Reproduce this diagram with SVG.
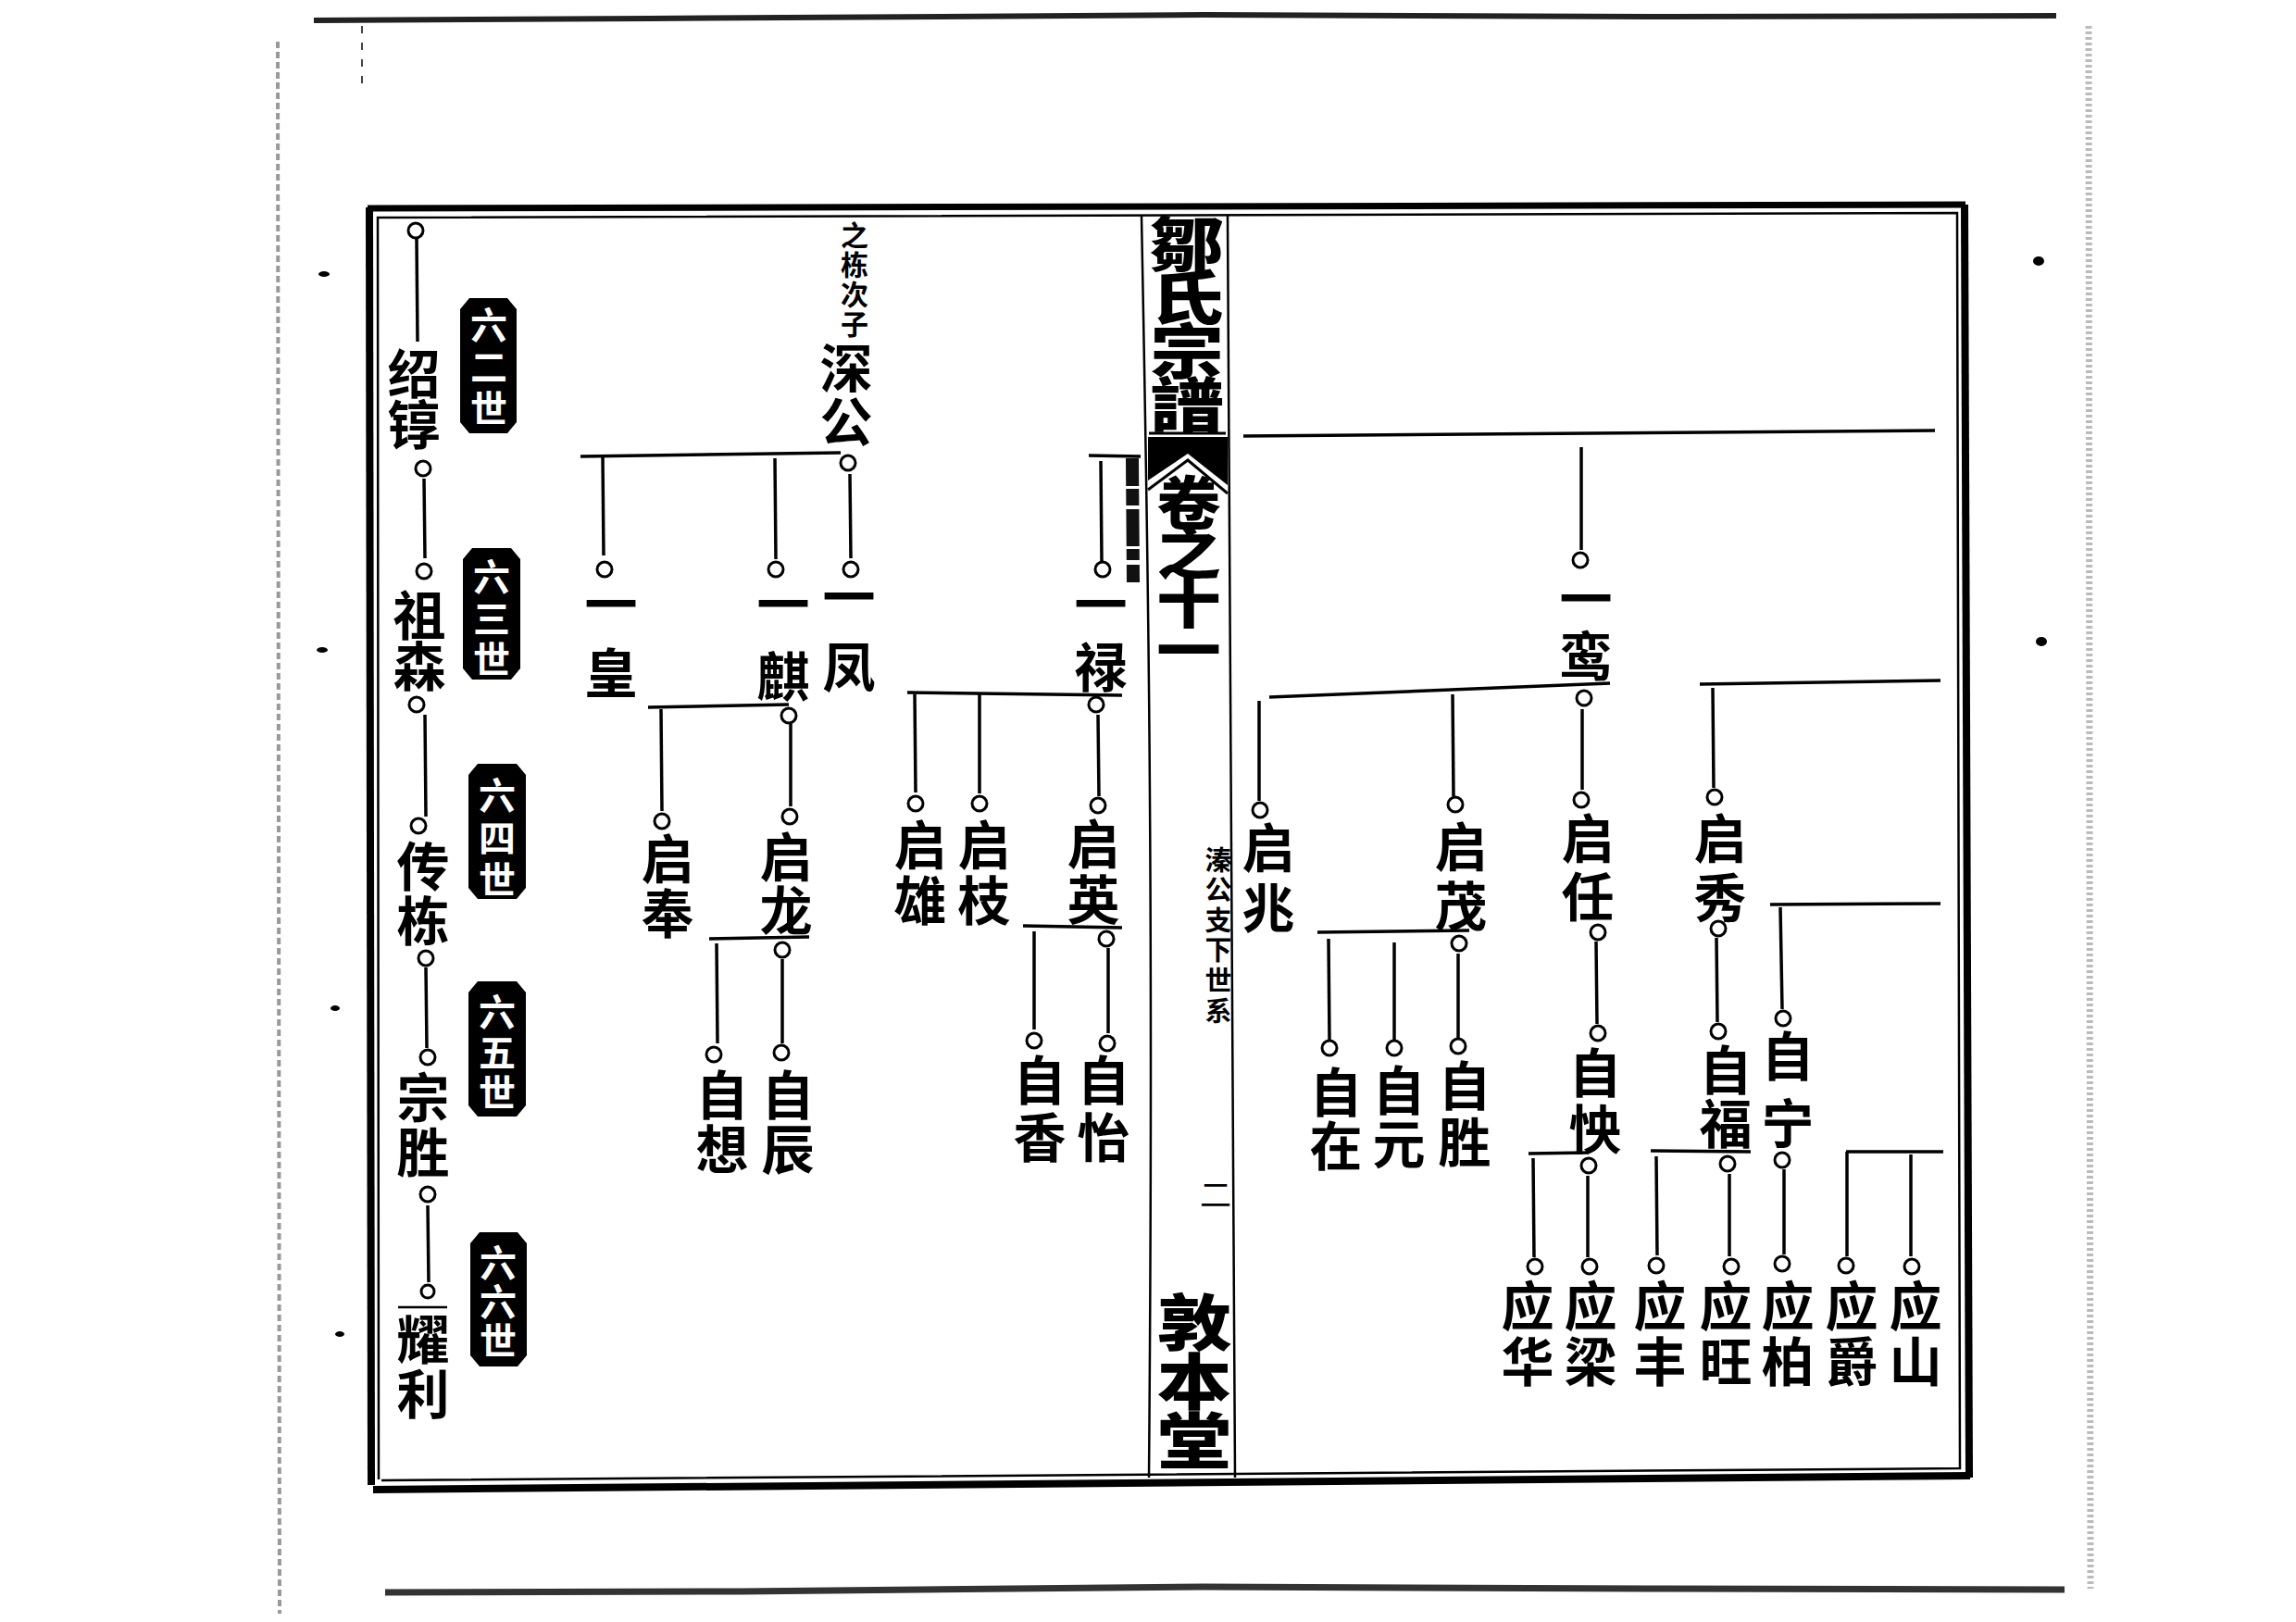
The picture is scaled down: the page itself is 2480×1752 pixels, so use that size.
<svg xmlns="http://www.w3.org/2000/svg" width="2480" height="1752" viewBox="0 0 2480 1752">
<style>
text { font-family: "Noto Sans CJK SC", "Noto Sans CJK TC", sans-serif; writing-mode: vertical-rl; text-anchor: start; dominant-baseline: central; }
.nm { font-size: 57px; font-weight: 700; fill: #000; }
.sm { font-size: 30px; font-weight: 700; fill: #000; }
.bt { font-size: 40px; font-weight: 700; fill: #fff; }
.tt { font-weight: 900; fill: #000; }
.ln { stroke: #000; stroke-width: 3.5; fill: none; }
.ci { fill: #fff; stroke: #000; stroke-width: 3; }
.fr { stroke: #000; fill: none; }
.bd { fill: #000; }
.scan { stroke: #222; fill: none; }
</style>
<rect x="0" y="0" width="2480" height="1752" fill="#fff"/>

<!-- scan edges -->
<g id="scan">
  <path class="scan" d="M 339 22 L 700 20 L 1300 16 L 1800 18 L 2221 17" stroke-width="6"/>
  <path d="M 416 1720 L 800 1719 L 1300 1714 L 1800 1716 L 2230 1717" stroke="#333" stroke-width="7" fill="none"/>
  <line x1="300" y1="45" x2="302" y2="1743" stroke="#999" stroke-width="4" stroke-dasharray="7 4"/>
  <line x1="2256" y1="28" x2="2258" y2="1716" stroke="#bbb" stroke-width="7" stroke-dasharray="3 3"/>
  <line x1="391" y1="28" x2="391" y2="96" stroke="#444" stroke-width="2" stroke-dasharray="8 10"/>
  <ellipse cx="350" cy="296" rx="6" ry="3" fill="#000"/>
  <ellipse cx="348" cy="702" rx="6" ry="3" fill="#000"/>
  <ellipse cx="362" cy="1089" rx="5" ry="3" fill="#000"/>
  <ellipse cx="367" cy="1441" rx="5" ry="3" fill="#000"/>
  <ellipse cx="2202" cy="282" rx="6" ry="5" fill="#000"/>
  <ellipse cx="2205" cy="693" rx="6" ry="5" fill="#000"/>
</g>

<!-- frame -->
<g id="frame">
  <line class="fr" x1="399" y1="224" x2="401" y2="1604" stroke-width="8"/>
  <line class="fr" x1="397" y1="225" x2="2123" y2="221" stroke-width="7"/>
  <line class="fr" x1="2122" y1="221" x2="2127" y2="1596" stroke-width="8"/>
  <line class="fr" x1="403" y1="1609" x2="2128" y2="1594" stroke-width="8"/>
  <path class="fr" d="M 409 1598 L 408 235 L 2114 230 L 2117 1586 L 412 1599" stroke-width="2.5"/>
  <path class="fr" d="M 1233 233 C 1238 500 1247 900 1241 1596" stroke-width="2.5"/>
  <path class="fr" d="M 1326 233 C 1330 600 1334 1000 1334 1596" stroke-width="2.5"/>
</g>

<!-- center column (banxin) -->
<g id="banxin">
  <g transform="translate(1282 0) scale(1.25 1)">
    <text class="tt" x="0" y="231" style="font-size:64px;letter-spacing:-6px">鄒氏宗譜</text>
  </g>
  <line class="fr" x1="1241" y1="468" x2="1324" y2="468" stroke-width="3"/>
  <polygon class="bd" points="1240,472 1326,472 1326,524 1283,490 1240,519"/>
  <polyline class="fr" points="1240,529 1283,497 1326,533" stroke-width="3"/>
  <g transform="translate(1284 0) scale(1.12 1)">
    <text class="tt" x="0" y="512" style="font-size:62px;letter-spacing:-9px">卷之十一</text>
  </g>
  <text class="sm" x="1316" y="914" style="font-size:29px;letter-spacing:3.6px">溱公支下世系</text>
  <text class="sm" x="1313" y="1273" style="font-size:34px;font-weight:400">二</text>
  <g transform="translate(1290 0) scale(1.22 1)">
    <text class="tt" x="0" y="1395" style="font-size:66px;letter-spacing:-2px">敦本堂</text>
  </g>
</g>

<!-- generation badges -->
<g id="gen-62"><polygon class="bd" points="507,322 548,322 558,334 558,456 548,468 507,468 497,456 497,334"/><text class="bt" x="528" y="331" style="letter-spacing:5px">六二世</text></g>
<g id="gen-63"><polygon class="bd" points="510,592 552,592 562,604 562,722 552,734 510,734 500,722 500,604"/><text class="bt" x="531" y="603" style="letter-spacing:4.5px">六三世</text></g>
<g id="gen-64"><polygon class="bd" points="516,825 558,825 568,837 568,959 558,971 516,971 506,959 506,837"/><text class="bt" x="537" y="839" style="letter-spacing:5.5px">六四世</text></g>
<g id="gen-65"><polygon class="bd" points="516,1060 558,1060 568,1072 568,1194 558,1206 516,1206 506,1194 506,1072"/><text class="bt" x="537" y="1073" style="letter-spacing:3.5px">六五世</text></g>
<g id="gen-66"><polygon class="bd" points="518,1331 559,1331 569,1343 569,1464 559,1476 518,1476 508,1464 508,1343"/><text class="bt" x="538" y="1344" style="letter-spacing:2px">六六世</text></g>

<!-- connectors -->
<g id="connectors">
  <line class="ln" x1="450" y1="258" x2="451" y2="369"/>
  <line class="ln" x1="458" y1="517" x2="459" y2="603"/>
  <line class="ln" x1="459" y1="772" x2="460" y2="882"/>
  <line class="ln" x1="460" y1="1045" x2="461" y2="1132"/>
  <line class="ln" x1="462" y1="1302" x2="463" y2="1385"/>

  <line class="ln" x1="627" y1="493" x2="908" y2="489"/>
  <line class="ln" x1="651" y1="493" x2="652" y2="600"/>
  <line class="ln" x1="837" y1="495" x2="838" y2="604"/>
  <line class="ln" x1="918" y1="512" x2="919" y2="603"/>

  <line class="ln" x1="700" y1="764" x2="852" y2="761"/>
  <line class="ln" x1="714" y1="766" x2="715" y2="876"/>
  <line class="ln" x1="854" y1="782" x2="854" y2="871"/>

  <line class="ln" x1="766" y1="1014" x2="874" y2="1012"/>
  <line class="ln" x1="774" y1="1019" x2="775" y2="1127"/>
  <line class="ln" x1="845" y1="1036" x2="845" y2="1127"/>

  <line class="ln" x1="1176" y1="492" x2="1232" y2="493"/>
  <line class="ln" x1="1189" y1="498" x2="1190" y2="606"/>
  <line x1="1223" y1="495" x2="1224" y2="629" stroke="#111" stroke-width="14" stroke-dasharray="30 3 18 4 40 3 12 5 20"/>

  <line class="ln" x1="980" y1="748" x2="1212" y2="751"/>
  <line class="ln" x1="988" y1="750" x2="989" y2="856"/>
  <line class="ln" x1="1058" y1="750" x2="1058" y2="857"/>
  <line class="ln" x1="1186" y1="772" x2="1187" y2="860"/>

  <line class="ln" x1="1105" y1="1000" x2="1212" y2="1002"/>
  <line class="ln" x1="1117" y1="1006" x2="1117" y2="1112"/>
  <line class="ln" x1="1197" y1="1024" x2="1197" y2="1116"/>

  <line class="ln" x1="1343" y1="471" x2="2090" y2="465"/>
  <line class="ln" x1="1708" y1="483" x2="1708" y2="594"/>

  <line class="ln" x1="1371" y1="753" x2="1739" y2="738"/>
  <line class="ln" x1="1360" y1="757" x2="1360" y2="865"/>
  <line class="ln" x1="1569" y1="750" x2="1570" y2="860"/>
  <line class="ln" x1="1709" y1="766" x2="1709" y2="853"/>

  <line class="ln" x1="1724" y1="1017" x2="1725" y2="1106"/>

  <line class="ln" x1="1836" y1="739" x2="2096" y2="735"/>
  <line class="ln" x1="1850" y1="743" x2="1851" y2="851"/>
  <line class="ln" x1="1854" y1="1013" x2="1855" y2="1104"/>

  <line class="ln" x1="1912" y1="977" x2="2096" y2="976"/>
  <line class="ln" x1="1923" y1="980" x2="1925" y2="1090"/>

  <line class="ln" x1="1423" y1="1007" x2="1587" y2="1005"/>
  <line class="ln" x1="1435" y1="1014" x2="1436" y2="1123"/>
  <line class="ln" x1="1506" y1="1018" x2="1506" y2="1123"/>
  <line class="ln" x1="1575" y1="1030" x2="1575" y2="1121"/>

  <line class="ln" x1="1651" y1="1246" x2="1716" y2="1245"/>
  <line class="ln" x1="1656" y1="1251" x2="1657" y2="1358"/>
  <line class="ln" x1="1715" y1="1270" x2="1715" y2="1358"/>

  <line class="ln" x1="1783" y1="1243" x2="1891" y2="1244"/>
  <line class="ln" x1="1789" y1="1249" x2="1790" y2="1356"/>
  <line class="ln" x1="1868" y1="1268" x2="1868" y2="1357"/>

  <line class="ln" x1="1927" y1="1263" x2="1927" y2="1355"/>

  <line class="ln" x1="1994" y1="1244" x2="2099" y2="1244"/>
  <line class="ln" x1="1995" y1="1244" x2="1995" y2="1357"/>
  <line class="ln" x1="2064" y1="1247" x2="2064" y2="1357"/>
</g>

<!-- left chain -->
<g id="n-shaochun"><circle class="ci" cx="449" cy="249" r="8"/><text class="nm" x="447" y="374.5" style="letter-spacing:-2px">绍𬭚</text><circle class="ci" cx="457" cy="506" r="8"/></g>
<g id="n-zusen"><circle class="ci" cx="458" cy="617" r="8"/><text class="nm" x="453" y="635.5" style="letter-spacing:-2px">祖森</text><circle class="ci" cx="450" cy="761" r="8"/></g>
<g id="n-chuandong"><circle class="ci" cx="452" cy="892" r="8"/><text class="nm" x="457" y="906.5" style="letter-spacing:2px">传栋</text><circle class="ci" cx="460" cy="1035" r="8"/></g>
<g id="n-zongsheng"><circle class="ci" cx="462" cy="1142" r="8"/><text class="nm" x="457" y="1156.5" style="letter-spacing:2px">宗胜</text><circle class="ci" cx="462" cy="1290" r="8"/></g>
<g id="n-yaoli"><circle class="ci" cx="462" cy="1395" r="7"/><line class="ln" x1="430" y1="1412" x2="483" y2="1412" style="stroke-width:2.5"/><text class="nm" x="457" y="1417.5" style="letter-spacing:2px">耀利</text></g>

<!-- 深公 branch -->
<g id="n-shengong"><text class="sm" x="923" y="239" style="letter-spacing:2px">之栋次子</text><text class="nm" x="914" y="368.5" style="letter-spacing:1px">深公</text><circle class="ci" cx="916" cy="500" r="8"/></g>
<g id="n-yihuang"><circle class="ci" cx="653" cy="615" r="8"/><text class="nm" x="660" y="623.5" style="letter-spacing:17px">一皇</text></g>
<g id="n-yiqi"><circle class="ci" cx="838" cy="615" r="8"/><text class="nm" x="846" y="623.5" style="letter-spacing:21px">一麒</text><circle class="ci" cx="852" cy="773" r="8"/></g>
<g id="n-yifeng"><circle class="ci" cx="919" cy="615" r="8"/><text class="nm" x="917" y="615.5" style="letter-spacing:19px">一凤</text></g>
<g id="n-qifeng"><circle class="ci" cx="715" cy="887" r="8"/><text class="nm" x="721" y="898.5" style="letter-spacing:2px">启奉</text></g>
<g id="n-qilong"><circle class="ci" cx="853" cy="882" r="8"/><text class="nm" x="849" y="896.5" style="letter-spacing:1px">启龙</text><circle class="ci" cx="845" cy="1026" r="8"/></g>
<g id="n-zixiang"><circle class="ci" cx="771" cy="1139" r="8"/><text class="nm" x="780" y="1153.5" style="letter-spacing:2px">自想</text></g>
<g id="n-zichen"><circle class="ci" cx="844" cy="1137" r="8"/><text class="nm" x="851" y="1153.5" style="letter-spacing:2px">自辰</text></g>

<!-- 一禄 branch -->
<g id="n-yilu"><circle class="ci" cx="1191" cy="615" r="8"/><text class="nm" x="1189" y="623.5" style="letter-spacing:11px">一禄</text><circle class="ci" cx="1184" cy="761" r="8"/></g>
<g id="n-qixiong"><circle class="ci" cx="989" cy="868" r="8"/><text class="nm" x="994" y="883.5" style="letter-spacing:3px">启雄</text></g>
<g id="n-qizhi"><circle class="ci" cx="1058" cy="868" r="8"/><text class="nm" x="1063" y="883.5" style="letter-spacing:3px">启枝</text></g>
<g id="n-qiying"><circle class="ci" cx="1186" cy="870" r="8"/><text class="nm" x="1181" y="882.5" style="letter-spacing:3px">启英</text><circle class="ci" cx="1195" cy="1014" r="8"/></g>
<g id="n-zixiang2"><circle class="ci" cx="1117" cy="1124" r="8"/><text class="nm" x="1123" y="1137.5" style="letter-spacing:5px">自香</text></g>
<g id="n-ziyi"><circle class="ci" cx="1196" cy="1127" r="8"/><text class="nm" x="1192" y="1137.5" style="letter-spacing:5px">自怡</text></g>

<!-- 一鸾 branch -->
<g id="n-yiluan"><circle class="ci" cx="1707" cy="605" r="8"/><text class="nm" x="1713" y="617.5" style="letter-spacing:5px">一鸾</text><circle class="ci" cx="1711" cy="754" r="8"/></g>
<g id="n-qizhao"><circle class="ci" cx="1361" cy="875" r="8"/><text class="nm" x="1370" y="886.5" style="letter-spacing:8px">启兆</text></g>
<g id="n-qimao"><circle class="ci" cx="1572" cy="869" r="8"/><text class="nm" x="1578" y="885.5" style="letter-spacing:7px">启茂</text><circle class="ci" cx="1576" cy="1019" r="8"/></g>
<g id="n-qiren"><circle class="ci" cx="1708" cy="864" r="8"/><text class="nm" x="1715" y="876.5" style="letter-spacing:6px">启任</text><circle class="ci" cx="1726" cy="1007" r="8"/></g>
<g id="n-qixiu"><circle class="ci" cx="1852" cy="861" r="8"/><text class="nm" x="1858" y="876.5" style="letter-spacing:7px">启秀</text><circle class="ci" cx="1856" cy="1003" r="8"/></g>
<g id="n-zizai"><circle class="ci" cx="1436" cy="1132" r="8"/><text class="nm" x="1443" y="1150.5" style="letter-spacing:1px">自在</text></g>
<g id="n-ziyuan"><circle class="ci" cx="1506" cy="1132" r="8"/><text class="nm" x="1511" y="1148.5" style="letter-spacing:1px">自元</text></g>
<g id="n-zisheng"><circle class="ci" cx="1575" cy="1130" r="8"/><text class="nm" x="1582" y="1143.5" style="letter-spacing:4px">自胜</text></g>
<g id="n-ziyang"><circle class="ci" cx="1726" cy="1116" r="8"/><text class="nm" x="1723" y="1129.5" style="letter-spacing:4px">自怏</text><circle class="ci" cx="1716" cy="1259" r="8"/></g>
<g id="n-zifu"><circle class="ci" cx="1856" cy="1114" r="8"/><text class="nm" x="1864" y="1126.5" style="letter-spacing:1px">自福</text><circle class="ci" cx="1866" cy="1257" r="8"/></g>
<g id="n-zining"><circle class="ci" cx="1926" cy="1100" r="8"/><text class="nm" x="1931" y="1111.5" style="letter-spacing:16px">自宁</text><circle class="ci" cx="1925" cy="1253" r="8"/></g>
<g id="n-yinghua"><circle class="ci" cx="1658" cy="1368" r="8"/><text class="nm" x="1650" y="1381.5" style="letter-spacing:3px">应华</text></g>
<g id="n-yingliang"><circle class="ci" cx="1717" cy="1368" r="8"/><text class="nm" x="1718" y="1381.5" style="letter-spacing:3px">应梁</text></g>
<g id="n-yingfeng"><circle class="ci" cx="1789" cy="1367" r="8"/><text class="nm" x="1793" y="1381.5" style="letter-spacing:3px">应丰</text></g>
<g id="n-yingwang"><circle class="ci" cx="1870" cy="1368" r="8"/><text class="nm" x="1864" y="1381.5" style="letter-spacing:3px">应旺</text></g>
<g id="n-yingbai"><circle class="ci" cx="1925" cy="1365" r="8"/><text class="nm" x="1931" y="1381.5" style="letter-spacing:3px">应柏</text></g>
<g id="n-yingjue"><circle class="ci" cx="1994" cy="1367" r="8"/><text class="nm" x="2000" y="1381.5" style="letter-spacing:3px">应爵</text></g>
<g id="n-yingshan"><circle class="ci" cx="2065" cy="1368" r="8"/><text class="nm" x="2069" y="1381.5" style="letter-spacing:3px">应山</text></g>
</svg>
